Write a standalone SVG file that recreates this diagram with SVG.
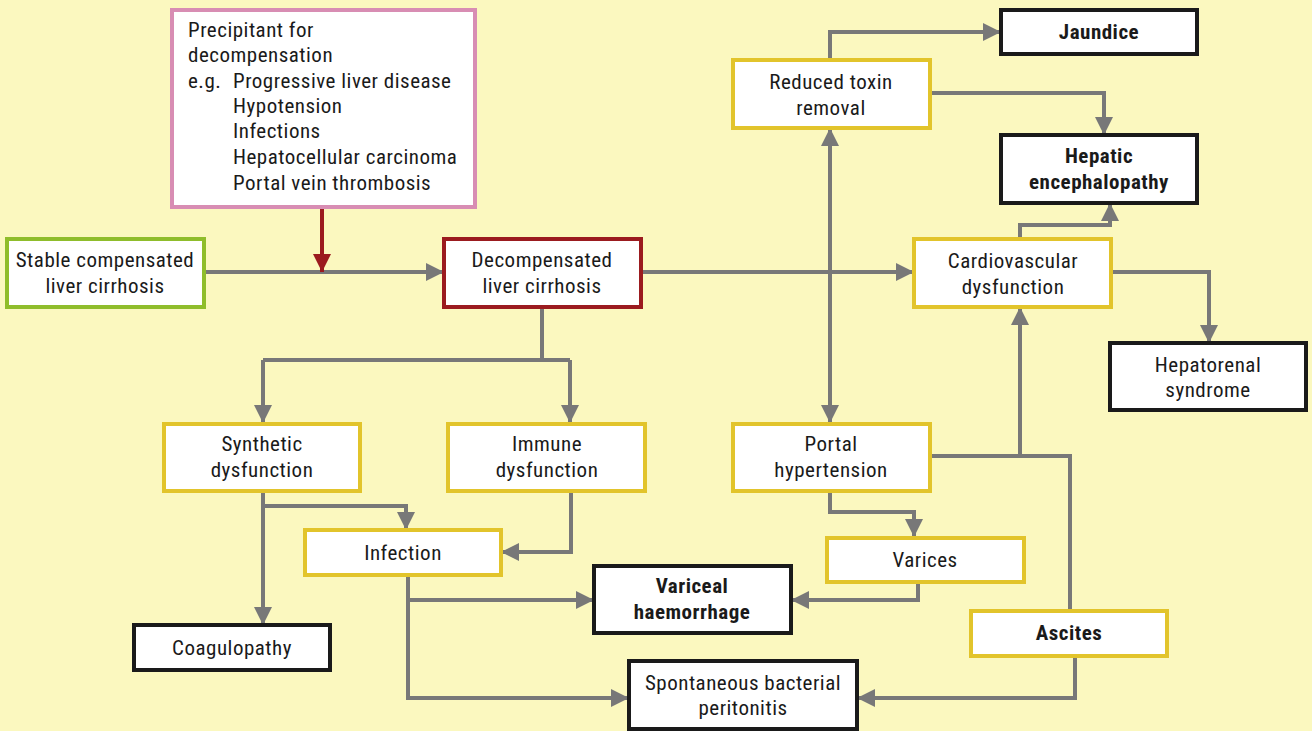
<svg xmlns="http://www.w3.org/2000/svg" width="1312" height="731" viewBox="0 0 1312 731">
<defs>
<style>
.bg{fill:#fbf8bf}
.n rect{fill:#fff;stroke-width:4}
.y rect{stroke:#e2c42b}
.k rect{stroke:#1a1a1a}
.t{font-family:"Liberation Sans Narrow","Roboto Condensed",Roboto,sans-serif;font-size:21px;letter-spacing:0.5px;fill:#1a1a1a;text-anchor:middle}
.b{font-weight:bold}
.l{text-anchor:start}
.c{fill:none;stroke:#787878;stroke-width:4}
</style>
<marker id="a" markerUnits="userSpaceOnUse" markerWidth="18" markerHeight="18" viewBox="0 0 18 18" refX="18" refY="9" orient="auto"><path d="M0,0 L18,9 L0,18 Z" fill="#787878"/></marker>
<marker id="r" markerUnits="userSpaceOnUse" markerWidth="18" markerHeight="18" viewBox="0 0 18 18" refX="18" refY="9" orient="auto"><path d="M0,0 L18,9 L0,18 Z" fill="#9b1b1f"/></marker>
</defs>
<rect class="bg" x="0" y="0" width="1312" height="731"/>
<g id="connectors">
<path class="c" d="M204,272 H444" marker-end="url(#a)"/>
<path d="M322,207 V272" fill="none" stroke="#9b1b1f" stroke-width="4" marker-end="url(#r)"/>
<path class="c" d="M641,272 H914" marker-end="url(#a)"/>
<path class="c" d="M542,307 V360"/>
<path class="c" d="M263,360 H570"/>
<path class="c" d="M263,360 V423" marker-end="url(#a)"/>
<path class="c" d="M570,360 V423" marker-end="url(#a)"/>
<path class="c" d="M263,491 V625" marker-end="url(#a)"/>
<path class="c" d="M263,506 H406 V530" marker-end="url(#a)"/>
<path class="c" d="M571,491 V552 H501" marker-end="url(#a)"/>
<path class="c" d="M408,575 V698 H629" marker-end="url(#a)"/>
<path class="c" d="M408,600 H594" marker-end="url(#a)"/>
<path class="c" d="M918,582 V600 H791" marker-end="url(#a)"/>
<path class="c" d="M830,150 V423" marker-end="url(#a)"/>
<path class="c" d="M830,300 V128" marker-end="url(#a)"/>
<path class="c" d="M830,60 V32 H1001" marker-end="url(#a)"/>
<path class="c" d="M930,93 H1104 V135" marker-end="url(#a)"/>
<path class="c" d="M1020,239 V225 H1110 V203" marker-end="url(#a)"/>
<path class="c" d="M1111,272 H1209 V343" marker-end="url(#a)"/>
<path class="c" d="M930,456 H1070 V610"/>
<path class="c" d="M1020,456 V307" marker-end="url(#a)"/>
<path class="c" d="M830,491 V512 H914 V537" marker-end="url(#a)"/>
<path class="c" d="M1075,656 V698 H857" marker-end="url(#a)"/>
</g>
<g id="precipitant" class="n"><rect x="172" y="10" width="303" height="197" style="stroke:#d88db3"/>
<text class="t l" x="188" y="37">Precipitant for</text>
<text class="t l" x="188" y="62">decompensation</text>
<text class="t l" x="188" y="88">e.g.</text>
<text class="t l" x="233" y="88">Progressive liver disease</text>
<text class="t l" x="233" y="113">Hypotension</text>
<text class="t l" x="233" y="138">Infections</text>
<text class="t l" x="233" y="164">Hepatocellular carcinoma</text>
<text class="t l" x="233" y="190">Portal vein thrombosis</text>
</g>
<g id="stable" class="n"><rect x="7" y="239" width="197" height="68" style="stroke:#8fbd2b"/>
<text class="t" x="105" y="267">Stable compensated</text><text class="t" x="105" y="293">liver cirrhosis</text></g>
<g id="decomp" class="n"><rect x="444" y="239" width="197" height="68" style="stroke:#9b1b1f"/>
<text class="t" x="542" y="267">Decompensated</text><text class="t" x="542" y="293">liver cirrhosis</text></g>
<g id="cardio" class="n y"><rect x="914" y="239" width="197" height="68"/>
<text class="t" x="1013" y="268">Cardiovascular</text><text class="t" x="1013" y="294">dysfunction</text></g>
<g id="toxin" class="n y"><rect x="733" y="60" width="197" height="68"/>
<text class="t" x="831" y="89">Reduced toxin</text><text class="t" x="831" y="115">removal</text></g>
<g id="jaundice" class="n k"><rect x="1001" y="10" width="196" height="44"/>
<text class="t b" x="1099" y="39">Jaundice</text></g>
<g id="hepatic" class="n k"><rect x="1001" y="135" width="196" height="68"/>
<text class="t b" x="1099" y="163">Hepatic</text><text class="t b" x="1099" y="189">encephalopathy</text></g>
<g id="hepatorenal" class="n k"><rect x="1110" y="343" width="196" height="67"/>
<text class="t" x="1208" y="372">Hepatorenal</text><text class="t" x="1208" y="397">syndrome</text></g>
<g id="synthetic" class="n y"><rect x="164" y="424" width="196" height="67"/>
<text class="t" x="262" y="451">Synthetic</text><text class="t" x="262" y="477">dysfunction</text></g>
<g id="immune" class="n y"><rect x="448" y="424" width="197" height="67"/>
<text class="t" x="547" y="451">Immune</text><text class="t" x="547" y="477">dysfunction</text></g>
<g id="portal" class="n y"><rect x="733" y="424" width="197" height="67"/>
<text class="t" x="831" y="451">Portal</text><text class="t" x="831" y="477">hypertension</text></g>
<g id="infection" class="n y"><rect x="305" y="530" width="196" height="45"/>
<text class="t" x="403" y="560">Infection</text></g>
<g id="coag" class="n k"><rect x="134" y="625" width="196" height="45"/>
<text class="t" x="232" y="655">Coagulopathy</text></g>
<g id="variceal" class="n k"><rect x="594" y="566" width="197" height="67"/>
<text class="t b" x="692" y="593">Variceal</text><text class="t b" x="692" y="619">haemorrhage</text></g>
<g id="varices" class="n y"><rect x="827" y="538" width="197" height="44"/>
<text class="t" x="925" y="567">Varices</text></g>
<g id="ascites" class="n y"><rect x="971" y="611" width="196" height="45"/>
<text class="t b" x="1069" y="640">Ascites</text></g>
<g id="sbp" class="n k"><rect x="629" y="661" width="228" height="68"/>
<text class="t" x="743" y="690">Spontaneous bacterial</text><text class="t" x="743" y="715">peritonitis</text></g>
</svg>
